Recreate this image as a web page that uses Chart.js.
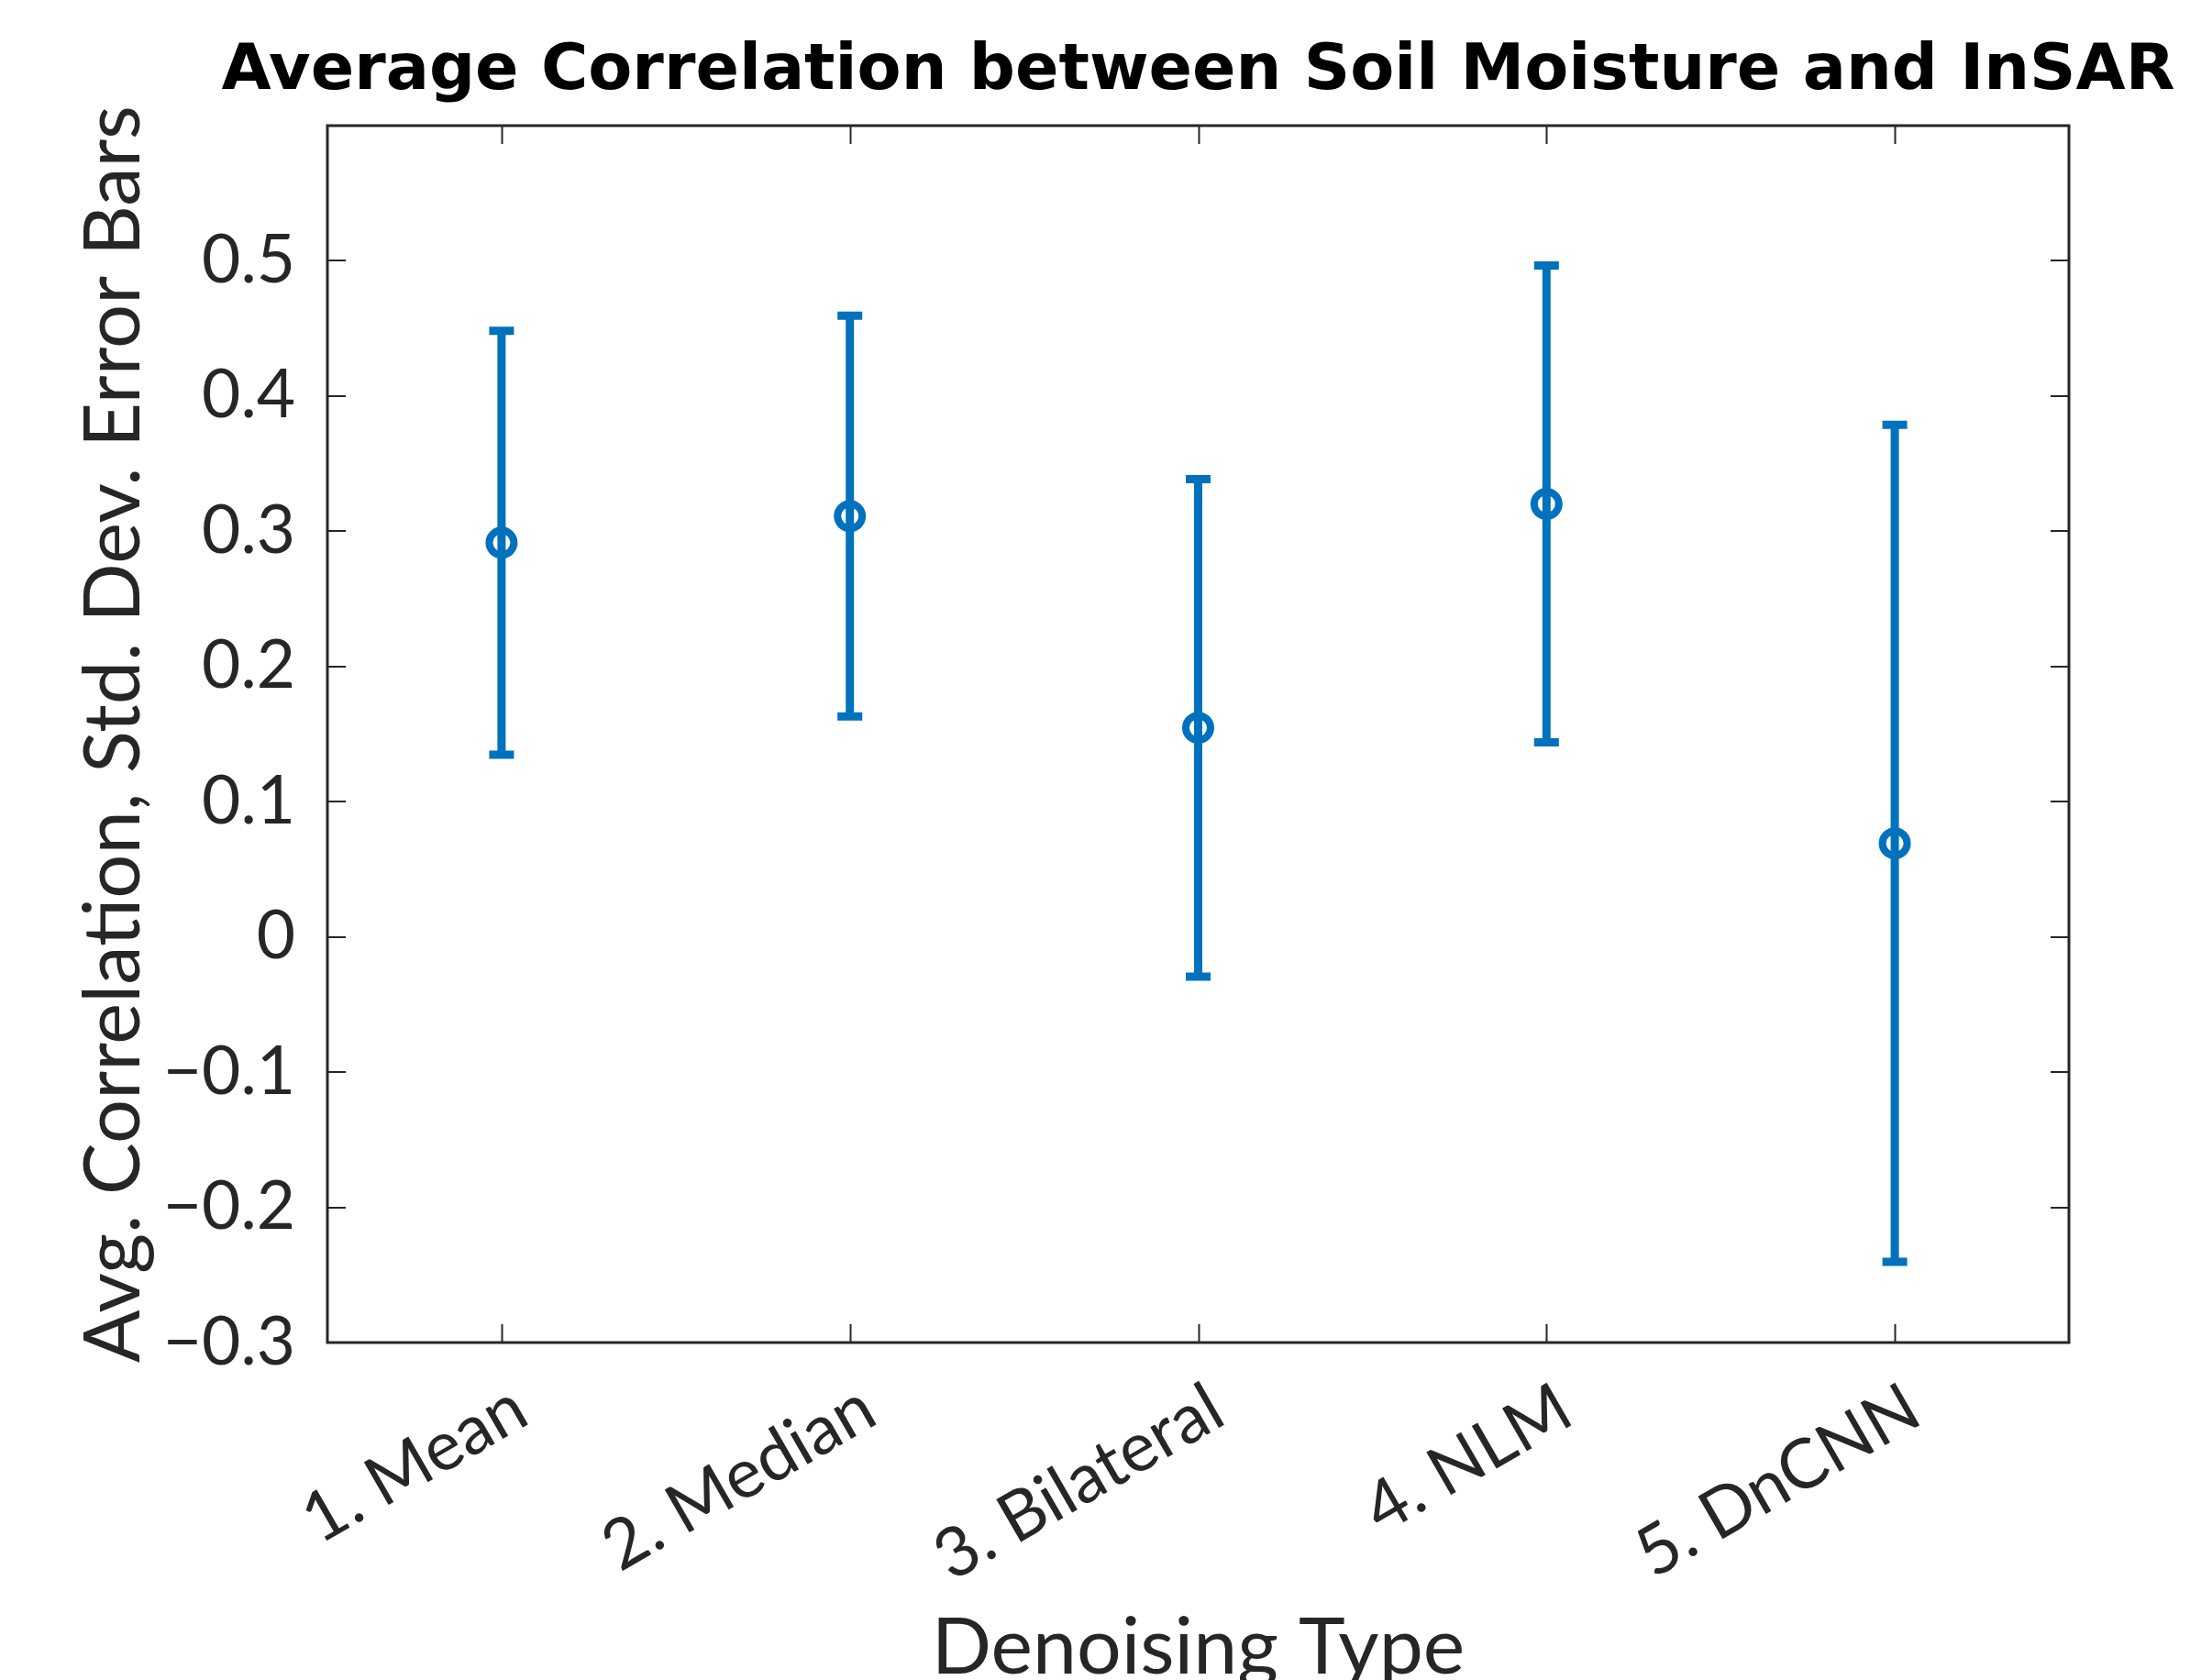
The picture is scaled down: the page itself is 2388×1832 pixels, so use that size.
<!DOCTYPE html>
<html>
<head>
<meta charset="utf-8">
<script src="https://cdn.jsdelivr.net/npm/chart.js@4.4.0/dist/chart.umd.min.js"></script>
<style>
  html, body { margin: 0; padding: 0; background: #ffffff; }
  #wrap { width: 2388px; height: 1832px; position: relative; }
</style>
</head>
<body>
<div id="wrap"><canvas id="chart"></canvas></div>
<script>
// Data
const categories = ['1. Mean', '2. Median', '3. Bilateral', '4. NLM', '5. DnCNN'];
const avgCorrelation = [0.2915, 0.3112, 0.1546, 0.3202, 0.0692];
const stdDev = [0.1567, 0.1482, 0.1840, 0.1763, 0.3096];
const yTickValues = [-0.3, -0.2, -0.1, 0, 0.1, 0.2, 0.3, 0.4, 0.5];
const chartTitle = 'Average Correlation between Soil Moisture and InSAR';

const LINE_COLOR = '#0072BD';
const AXIS_COLOR = '#262626';
const FONT = 'Lato';

// error bars drawn through the chart's own scales
const errorBarPlugin = {
    id: 'errorBars',
    beforeDatasetsDraw(chart) {
        const { ctx, scales: { x, y } } = chart;
        ctx.save();
        ctx.strokeStyle = LINE_COLOR;
        ctx.lineWidth = 9;
        ctx.lineCap = 'butt';
        avgCorrelation.forEach((m, i) => {
            const px = x.getPixelForValue(i + 1);
            const top = y.getPixelForValue(m + stdDev[i]);
            const bot = y.getPixelForValue(m - stdDev[i]);
            ctx.beginPath();
            ctx.moveTo(px, top);
            ctx.lineTo(px, bot);
            ctx.moveTo(px - 13.5, top);
            ctx.lineTo(px + 13.5, top);
            ctx.moveTo(px - 13.5, bot);
            ctx.lineTo(px + 13.5, bot);
            ctx.stroke();
        });
        ctx.restore();
    }
};

// MATLAB style box with inward ticks on all four sides, plus the title
// (the built-in title squeezes text to its box width, this one overhangs like the original)
const boxPlugin = {
    id: 'boxFrame',
    afterDraw(chart) {
        const { ctx, chartArea: a, scales: { x, y } } = chart;
        const len = 20;
        ctx.save();
        ctx.strokeStyle = AXIS_COLOR;
        ctx.lineWidth = 2;
        ctx.beginPath();
        x.ticks.forEach(t => {
            const px = Math.round(x.getPixelForValue(t.value)) + 0.5;
            ctx.moveTo(px, a.bottom); ctx.lineTo(px, a.bottom - len);
            ctx.moveTo(px, a.top); ctx.lineTo(px, a.top + len);
        });
        y.ticks.forEach(t => {
            const py = Math.round(y.getPixelForValue(t.value));
            ctx.moveTo(a.left, py); ctx.lineTo(a.left + len, py);
            ctx.moveTo(a.right, py); ctx.lineTo(a.right - len, py);
        });
        ctx.stroke();
        ctx.lineWidth = 3;
        ctx.strokeRect(a.left, a.top, a.right - a.left, a.bottom - a.top);

        ctx.fillStyle = '#000000';
        ctx.font = 'bold 70px "DejaVu Sans"';
        ctx.textAlign = 'center';
        ctx.textBaseline = 'alphabetic';
        ctx.fillText(chartTitle, (a.left + a.right) / 2, 97);
        ctx.restore();
    }
};

Chart.defaults.font.family = FONT;

new Chart(document.getElementById('chart'), {
    type: 'scatter',
    data: {
        datasets: [{
            label: 'Avg. Correlation',
            data: avgCorrelation.map((v, i) => ({ x: i + 1, y: v })),
            pointStyle: 'circle',
            pointRadius: 13.5,
            pointHoverRadius: 13.5,
            borderWidth: 8,
            pointBorderWidth: 8,
            borderColor: LINE_COLOR,
            backgroundColor: 'rgba(0,0,0,0)',
            showLine: false
        }]
    },
    options: {
        responsive: true,
        maintainAspectRatio: false,
        devicePixelRatio: 1,
        animation: false,
        layout: { padding: { left: 0, right: 132, top: 137, bottom: 0 } },
        plugins: {
            legend: { display: false },
            tooltip: { enabled: false },
            title: { display: false }
        },
        scales: {
            x: {
                type: 'linear',
                min: 0.5,
                max: 5.5,
                grid: { display: false },
                border: { display: false },
                afterBuildTicks: s => { s.ticks = categories.map((c, i) => ({ value: i + 1 })); },
                afterFit: s => { s.height = 368; },
                ticks: {
                    color: AXIS_COLOR,
                    font: { size: 75 },
                    padding: 19,
                    labelOffset: 21,
                    minRotation: 30,
                    maxRotation: 30,
                    autoSkip: false,
                    callback: v => categories[Math.round(v) - 1]
                },
                title: {
                    display: true,
                    text: 'Denoising Type',
                    color: AXIS_COLOR,
                    font: { size: 86, lineHeight: 0.8 },
                    padding: { top: 0, bottom: 0 }
                }
            },
            y: {
                min: -0.3,
                max: 0.6,
                grid: { display: false },
                border: { display: false },
                afterBuildTicks: s => { s.ticks = yTickValues.map(v => ({ value: v })); },
                afterFit: s => { s.width = 357; },
                ticks: {
                    color: AXIS_COLOR,
                    font: { size: 73 },
                    padding: 27,
                    callback: v => {
                        const r = Math.round(v * 10) / 10;
                        if (r === 0) return '0';
                        return (r < 0 ? '\u2212' : '') + Math.abs(r).toFixed(1);
                    }
                },
                title: {
                    display: true,
                    text: 'Avg. Correlation, Std. Dev. Error Bars',
                    color: AXIS_COLOR,
                    font: { size: 85, lineHeight: 1.2 },
                    padding: { top: 74, bottom: 0 }
                }
            }
        }
    },
    plugins: [errorBarPlugin, boxPlugin]
});
</script>
</body>
</html>
